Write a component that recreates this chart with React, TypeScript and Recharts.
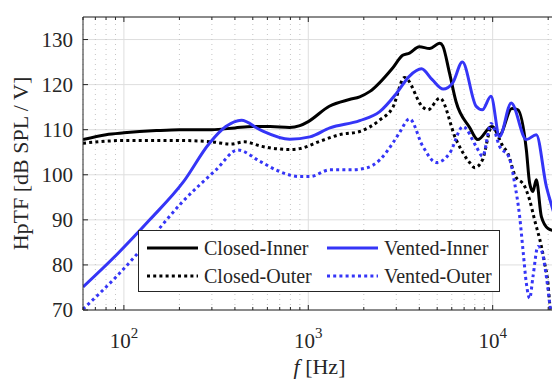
import React from 'react';
import { LineChart, Line, XAxis, YAxis, CartesianGrid, Legend, ReferenceLine } from 'recharts';

// frequencies in Hz, levels in dB SPL / V
const closedInnerFreq = [60, 80, 100, 150, 200, 300, 400, 500, 620, 790, 900, 1000, 1300, 1670, 1900, 2160, 2870, 3250, 3540, 4000, 4550, 5170, 5360, 5830, 6330, 7500, 8300, 9880, 10900, 12700, 13700, 15230, 15870, 16540, 17240, 18370, 19950, 22050];
const closedInnerDb = [107.8, 108.9, 109.3, 109.8, 110.0, 110.0, 110.4, 110.7, 110.7, 110.5, 110.9, 111.8, 115.2, 116.7, 117.3, 118.5, 123.7, 126.5, 127.0, 128.4, 128.0, 129.2, 128.6, 122.6, 116.2, 110.5, 107.8, 110.7, 108.9, 114.7, 114.4, 105.5, 98.1, 96.3, 98.9, 90.7, 88.1, 87.5];

const closedOuterFreq = [60, 100, 200, 300, 380, 450, 560, 790, 900, 1150, 1480, 1900, 2450, 2870, 3330, 4180, 4450, 5170, 6330, 7500, 8000, 8800, 9900, 11370, 12070, 13160, 14920, 15870, 16870, 18370, 19130, 19950, 20370, 22050];
const closedOuterDb = [107.0, 107.6, 107.6, 107.3, 106.8, 107.3, 106.3, 105.6, 105.8, 107.4, 108.9, 109.6, 112.2, 114.9, 121.6, 115.0, 114.4, 117.0, 107.8, 102.7, 101.6, 103.3, 110.7, 106.3, 104.8, 100.0, 97.4, 94.4, 90.0, 84.1, 80.4, 75.9, 71.5, 62];

const ventedInnerFreq = [60, 91, 138, 209, 291, 357, 434, 546, 794, 1020, 1310, 1900, 2440, 3000, 3540, 4110, 4700, 5390, 6070, 6850, 8130, 8780, 9790, 10900, 12600, 15230, 17240, 19550, 20600, 22050];
const ventedInnerDb = [75.1, 82.2, 90.0, 98.3, 107.0, 110.7, 112.1, 110.0, 107.9, 108.4, 110.4, 112.0, 114.0, 118.0, 121.9, 123.5, 121.1, 119.0, 120.4, 125.0, 115.2, 114.4, 117.4, 108.5, 115.9, 107.8, 108.9, 97.4, 94.0, 90.0];

const ventedOuterFreq = [60, 91, 138, 209, 316, 415, 546, 700, 900, 1020, 1310, 1680, 2060, 2440, 2870, 3120, 3540, 4180, 4950, 5850, 6900, 8130, 8820, 9800, 10900, 12290, 13160, 14010, 14600, 15230, 15870, 16540, 17600, 18370, 19550, 20370, 22050];
const ventedOuterDb = [70.2, 77.4, 85.6, 94.1, 101.1, 105.5, 103.0, 100.7, 99.6, 99.6, 101.1, 101.1, 101.5, 103.3, 107.0, 109.3, 112.4, 106.3, 102.7, 104.8, 110.7, 106.3, 104.1, 111.4, 106.3, 103.8, 98.1, 90.7, 83.3, 75.9, 72.6, 77.4, 84.1, 83.3, 77.4, 71.5, 60];

const xMajorTicks = [100, 1000, 10000];
const xMinorTicks = [60, 70, 80, 90, 200, 300, 400, 500, 600, 700, 800, 900, 2000, 3000, 4000, 5000, 6000, 7000, 8000, 9000, 20000];
const yTicks = [70, 80, 90, 100, 110, 120, 130];

const seriesNames = ['Closed-Inner', 'Closed-Outer', 'Vented-Inner', 'Vented-Outer'];

const BLACK = '#000000';
const BLUE = '#3535f7';
const AXIS = '#262626';
const FONT = '"Liberation Serif", "Times New Roman", serif';
const DOTS = '3 3.2';

const toPoints = (f: number[], v: number[]) => f.map((x, i) => ({ f: x, v: v[i] }));

const series = [
  { name: seriesNames[0], data: toPoints(closedInnerFreq, closedInnerDb), color: BLACK, dash: undefined },
  { name: seriesNames[1], data: toPoints(closedOuterFreq, closedOuterDb), color: BLACK, dash: DOTS },
  { name: seriesNames[2], data: toPoints(ventedInnerFreq, ventedInnerDb), color: BLUE, dash: undefined },
  { name: seriesNames[3], data: toPoints(ventedOuterFreq, ventedOuterDb), color: BLUE, dash: DOTS },
];

const allXTicks = [...xMajorTicks, ...xMinorTicks].sort((a, b) => a - b);

const BottomTick = (props: any) => {
  const { x, y, payload } = props;
  const v = payload.value;
  const major = xMajorTicks.includes(v);
  return (
    <g>
      <line x1={x} y1={y} x2={x} y2={y - (major ? 5 : 3)} stroke={AXIS} strokeWidth={1} />
      {major && (
        <text x={x} y={y + 38} textAnchor="middle" fill={AXIS} fontSize={21} fontFamily={FONT}>
          10
          <tspan dy={-10} fontSize={15}>{Math.round(Math.log10(v))}</tspan>
        </text>
      )}
    </g>
  );
};

const TopTick = (props: any) => {
  const { x, y, payload } = props;
  const major = xMajorTicks.includes(payload.value);
  return <line x1={x} y1={y} x2={x} y2={y + (major ? 5 : 3)} stroke={AXIS} strokeWidth={1} />;
};

const LeftTick = (props: any) => {
  const { x, y, payload } = props;
  return (
    <g>
      <line x1={x} y1={y} x2={x + 5} y2={y} stroke={AXIS} strokeWidth={1} />
      <text x={x - 10} y={y + 7} textAnchor="end" fill={AXIS} fontSize={21} fontFamily={FONT}>
        {payload.value}
      </text>
    </g>
  );
};

const renderLegend = () => (
  <div style={{ width: 362, height: 62, boxSizing: 'border-box', border: `1px solid ${AXIS}`, background: '#fff' }}>
    <svg width={360} height={60} style={{ display: 'block' }}>
      {series.map((s, i) => {
        const col = Math.floor(i / 2);
        const row = i % 2;
        const lx = col === 0 ? 8 : 188;
        const cy = row === 0 ? 17 : 45;
        return (
          <g key={s.name}>
            <line x1={lx} y1={cy} x2={lx + 51} y2={cy} stroke={s.color} strokeWidth={3} strokeDasharray={s.dash} />
            <text x={lx + 57} y={cy + 7} fill={AXIS} fontSize={20} fontFamily={FONT}>{s.name}</text>
          </g>
        );
      })}
    </svg>
  </div>
);

export default function App() {
  return (
    <div style={{ position: 'absolute', left: 0, top: 0, width: 552, height: 381, overflow: 'hidden', background: '#fff' }}>
      <LineChart width={560} height={381} margin={{ top: 0, right: 4, bottom: 0, left: 0 }}>
        <CartesianGrid xAxisId="b" yAxisId="l" stroke="#dedede" horizontal vertical={false} />
        {xMajorTicks.map((f) => (
          <ReferenceLine key={`M${f}`} xAxisId="b" yAxisId="l" x={f} stroke="#dedede" />
        ))}
        {xMinorTicks.map((f) => (
          <ReferenceLine key={`m${f}`} xAxisId="b" yAxisId="l" x={f} stroke="#c4c4c4" strokeDasharray="1 4" />
        ))}
        <XAxis
          xAxisId="b"
          type="number"
          dataKey="f"
          scale="log"
          domain={[60, 22050]}
          allowDataOverflow
          ticks={allXTicks}
          interval={0}
          tickSize={0}
          tickMargin={0}
          tickLine={false}
          tick={<BottomTick />}
          axisLine={{ stroke: AXIS }}
          height={71}
          label={{
            content: ({ viewBox }: any) => {
              const cx = viewBox.x + viewBox.width / 2;
              return (
                <text x={cx} y={viewBox.y + 64} textAnchor="middle" fill={AXIS} fontSize={22} fontFamily={FONT}>
                  <tspan fontStyle="italic">f</tspan> [Hz]
                </text>
              );
            },
          }}
        />
        <XAxis
          xAxisId="t"
          orientation="top"
          type="number"
          dataKey="f"
          scale="log"
          domain={[60, 22050]}
          allowDataOverflow
          ticks={allXTicks}
          interval={0}
          tickSize={0}
          tickMargin={0}
          tickLine={false}
          tick={<TopTick />}
          axisLine={{ stroke: AXIS }}
          height={17}
        />
        <YAxis
          yAxisId="l"
          type="number"
          domain={[70, 135]}
          allowDataOverflow
          ticks={yTicks}
          interval={0}
          tickSize={0}
          tickMargin={0}
          tickLine={false}
          tick={<LeftTick />}
          axisLine={{ stroke: AXIS }}
          width={83}
          label={{
            content: ({ viewBox }: any) => {
              const cx = viewBox.x + 20;
              const cy = viewBox.y + viewBox.height / 2;
              return (
                <text x={cx} y={cy} transform={`rotate(-90 ${cx} ${cy})`} textAnchor="middle" dominantBaseline="central" fill={AXIS} fontSize={22} fontFamily={FONT}>
                  HpTF [dB SPL / V]
                </text>
              );
            },
          }}
        />
        {series.map((s) => (
          <Line
            key={s.name}
            xAxisId="b"
            yAxisId="l"
            data={s.data}
            dataKey="v"
            name={s.name}
            type="monotone"
            stroke={s.color}
            strokeWidth={3}
            strokeDasharray={s.dash}
            dot={false}
            isAnimationActive={false}
          />
        ))}
        <Legend
          layout="horizontal"
          verticalAlign="middle"
          align="center"
          content={renderLegend}
          wrapperStyle={{ left: 138, top: 230, width: 362, height: 62 }}
        />
      </LineChart>
    </div>
  );
}
